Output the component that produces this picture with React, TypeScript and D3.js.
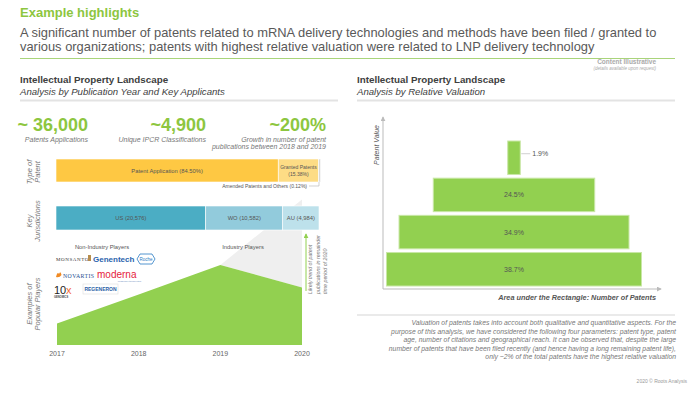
import * as d3 from 'd3';

// ---- data ----
const statValues = ['~ 36,000', '~4,900', '~200%'];
const statLabels = [
  ['Patents Applications'],
  ['Unique IPCR Classifications'],
  ['Growth  in number of patent', 'publications between 2018 and 2019'],
];

const patentTypes = ['Patent Application', 'Granted Patents', 'Amended Patents and Others'];
const patentShares = [84.5, 15.38, 0.12];
const patentColours = ['#fec843', '#fddc85', '#d9d9d9'];

const jurisdictions = ['US', 'WO', 'AU'];
const jurisdictionCounts = [20576, 10582, 4984];
const jurisdictionColours = ['#4badc4', '#92cbdc', '#bde1eb'];

const years = [2017, 2018, 2019, 2020];
const publications = [27, 63, 100, 72]; // relative publication index
const projected2020 = 182;

const valuationShares = [1.9, 24.5, 34.9, 38.7];

const paragraph = [
  'Valuation of patents takes into account both qualitative and quantitative aspects. For the',
  'purpose of this analysis, we have considered the following  four parameters:  patent type, patent',
  'age, number of citations and geographical reach.  It can be observed that, despite the large',
  'number of patents that have been filed recently (and hence having a long remaining patent life),',
  'only ~2% of the total patents have the highest relative valuation',
];

const W = 700;
const H = 394;
const FONT = '"Liberation Sans", Arial, sans-serif';
const GREEN = '#8dc63f';
const GRAY = '#595959';

export default function App() {
  // left panel scales
  const xShare = d3.scaleLinear().domain([0, 100]).range([56, 319]);
  const xJur = d3.scaleLinear().domain([0, d3.sum(jurisdictionCounts)]).range([56, 319]);
  const xYear = d3.scaleLinear().domain([2017, 2020]).range([57, 302]);
  const yPub = d3.scaleLinear().domain([0, 100]).range([345, 265]);

  const shareStarts = patentShares.map((_, i) => d3.sum(patentShares.slice(0, i)));
  const jurStarts = jurisdictionCounts.map((_, i) => d3.sum(jurisdictionCounts.slice(0, i)));

  const area = d3
    .area<number>()
    .x((_, i) => xYear(years[i]))
    .y0(yPub(0))
    .y1((d) => yPub(d));

  const projPoly = [
    [xYear(2019), yPub(publications[2])],
    [xYear(2020), yPub(projected2020)],
    [xYear(2020), yPub(publications[3])],
  ];

  // right panel scales
  const wVal = d3.scaleLinear().domain([0, d3.max(valuationShares)!]).range([0, 255]);
  const yVal = d3
    .scaleBand<number>()
    .domain(valuationShares)
    .range([141, 286])
    .paddingInner(0.1);
  const cxVal = 514;

  return (
    <div style={{ position: 'fixed', left: 0, top: 0 }}>
      <svg width={W} height={H} style={{ display: 'block', background: '#fff' }} fontFamily={FONT}>
        <defs>
          <marker id="arrGray" viewBox="0 0 6 6" refX="5" refY="3" markerWidth="5" markerHeight="5" orient="auto">
            <path d="M0,0 L6,3 L0,6 z" fill="#bbb" />
          </marker>
          <marker id="arrGreen" viewBox="0 0 6 6" refX="5" refY="3" markerWidth="5" markerHeight="5" orient="auto">
            <path d="M0,0 L6,3 L0,6 z" fill="#92d050" />
          </marker>
        </defs>

        {/* header */}
        <text x={20} y={17} fontSize={13} fontWeight="bold" fill={GREEN}>Example highlights</text>
        <text x={20} y={37} fontSize={12.9} fill={GRAY}>
          A significant number of patents related to mRNA delivery technologies and methods have been filed / granted to
        </text>
        <text x={20} y={50.5} fontSize={12.9} fill={GRAY}>
          various organizations; patents with highest relative valuation were related to LNP delivery technology
        </text>
        <line x1={20} x2={675} y1={58.5} y2={58.5} stroke="#a9d47a" strokeWidth={1} />
        <text x={656} y={63.5} fontSize={6.5} fontWeight="bold" fill="#aaa" textAnchor="end">Content Illustrative</text>
        <text x={656} y={70} fontSize={4.5} fontStyle="italic" fill="#aaa" textAnchor="end">(details available upon request)</text>

        {/* section headers */}
        {[20, 357].map((x, i) => (
          <g key={x}>
            <text x={x} y={82.5} fontSize={9.8} fontWeight="bold" fill="#404040">Intellectual  Property Landscape</text>
            <text x={x} y={95} fontSize={9.6} fontStyle="italic" fill="#404040">
              {i === 0 ? 'Analysis by Publication Year and Key Applicants' : 'Analysis by Relative Valuation'}
            </text>
            <line x1={x} x2={i === 0 ? 338 : 675} y1={100.5} y2={100.5} stroke="#e3e3e3" strokeWidth={2} />
          </g>
        ))}

        {/* big stats */}
        {statValues.map((v, i) => {
          const xr = [88, 206, 326][i];
          return (
            <g key={v}>
              <text x={xr} y={131} fontSize={18} fontWeight="bold" fill={GREEN} textAnchor="end">{v}</text>
              {statLabels[i].map((l, j) => (
                <text key={l} x={xr} y={141.5 + j * 7.5} fontSize={7} fontStyle="italic" fill="#777" textAnchor="end">{l}</text>
              ))}
            </g>
          );
        })}

        {/* row labels */}
        {[
          [172, 'Type of', 'Patent'],
          [221, 'Key', 'Jurisdictions'],
          [304, 'Examples of', 'Popular Players'],
        ].map(([cy, a, b]) => (
          <g key={String(cy)} transform={`translate(33,${cy}) rotate(-90)`}>
            <text x={0} y={-1.5} fontSize={7.5} fontStyle="italic" fill="#777" textAnchor="middle">{a}</text>
            <text x={0} y={7} fontSize={7.5} fontStyle="italic" fill="#777" textAnchor="middle">{b}</text>
          </g>
        ))}

        {/* projected area (behind bars) */}
        <polygon points={projPoly.map((p) => p.join(',')).join(' ')} fill="#efefef" />

        {/* type of patent bar */}
        {patentShares.map((s, i) => {
          const x0 = xShare(shareStarts[i]);
          const w = Math.max(xShare(shareStarts[i] + s) - x0, 2);
          return <rect key={patentTypes[i]} x={x0} y={159} width={w} height={23} fill={patentColours[i]} stroke="#fff" strokeWidth={0.6} />;
        })}
        <text x={(xShare(0) + xShare(patentShares[0])) / 2} y={173} fontSize={5.8} fill="#555" textAnchor="middle">
          {`${patentTypes[0]} (${patentShares[0].toFixed(2)}%)`}
        </text>
        <text x={(xShare(shareStarts[1]) + xShare(shareStarts[2])) / 2} y={169} fontSize={5} fill="#555" textAnchor="middle">{patentTypes[1]}</text>
        <text x={(xShare(shareStarts[1]) + xShare(shareStarts[2])) / 2} y={176} fontSize={5} fill="#555" textAnchor="middle">{`(${patentShares[1].toFixed(2)}%)`}</text>
        <text x={307} y={188} fontSize={5} fill="#555" textAnchor="end">{`${patentTypes[2]} (${patentShares[2].toFixed(2)}%)`}</text>
        <polyline points={`309,186 ${xShare(100)},186 ${xShare(100)},182`} fill="none" stroke="#bbb" strokeWidth={0.7} />

        {/* jurisdiction bar */}
        {jurisdictionCounts.map((c, i) => {
          const x0 = xJur(jurStarts[i]);
          const x1 = xJur(jurStarts[i] + c);
          return (
            <g key={jurisdictions[i]}>
              <rect x={x0} y={206} width={x1 - x0} height={24} fill={jurisdictionColours[i]} stroke="#fff" strokeWidth={0.6} />
              <text x={(x0 + x1) / 2} y={220} fontSize={5.8} fill="#555" textAnchor="middle">
                {`${jurisdictions[i]} (${d3.format(',')(c)})`}
              </text>
            </g>
          );
        })}

        <text x={102} y={249} fontSize={5.8} fill="#555" textAnchor="middle">Non-Industry Players</text>
        <text x={243} y={249} fontSize={5.8} fill="#555" textAnchor="middle">Industry Players</text>

        {/* area chart */}
        <path d={area(publications)!} fill="#92d050" />
        {years.map((y) => (
          <text key={y} x={xYear(y)} y={356} fontSize={7} fill="#666" textAnchor="middle">{y}</text>
        ))}
        <line x1={306} x2={306} y1={291} y2={234} stroke="#92d050" strokeWidth={1} markerEnd="url(#arrGreen)" />
        {['Likely trend of patent', 'publications in remainder', 'time period of 2020'].map((t, i) => (
          <text key={t} transform={`translate(${312 + i * 7.5},294) rotate(-90)`} fontSize={5.3} fontStyle="italic" fill="#777">{t}</text>
        ))}

        {/* logos (as text) */}
        <text x={56} y={261} fontSize={5} fontFamily="'Liberation Serif', serif" letterSpacing={0.6} fill="#333">MONSANTO</text>
        <rect x={88} y={255} width={3} height={6} fill="#b68d4c" />
        <text x={93} y={261.5} fontSize={8} fontWeight="bold" fill="#2a63ad">Genentech</text>
        <polygon points="137,259 140,254 152,254 155,259 152,264 140,264" fill="#fff" stroke="#2a7bc4" strokeWidth={0.8} />
        <text x={146} y={261} fontSize={4.5} fill="#2a7bc4" textAnchor="middle">Roche</text>

        <path d="M56,277 q1.5,-6 3,-3 q1.5,-4 2.5,1 q-2,3 -5.5,2 z" fill="#f08a24" />
        <text x={63} y={278} fontSize={5.8} fontFamily="'Liberation Serif', serif" letterSpacing={0.4} fill="#1d4f91">NOVARTIS</text>
        <text x={97} y={278} fontSize={10} fill="#e51b3e">moderna</text>
        <text x={141} y={282} fontSize={2.2} fill="#6a8ac0" textAnchor="end">messenger therapeutics</text>

        <text x={54} y={294} fontSize={11} fill="#222">10</text>
        <text x={66} y={294} fontSize={11} fill="#f26c3b">x</text>
        <text x={54} y={298} fontSize={2.6} fontWeight="bold" fill="#444">GENOMICS</text>
        <rect x={83} y={284} width={35} height={10} fill="#fff" stroke="#ddd" strokeWidth={0.6} />
        <text x={100.5} y={291} fontSize={5} fontWeight="bold" fill="#2b5fa6" textAnchor="middle">REGENERON</text>

        {/* right panel: valuation rectangles */}
        <line x1={383} x2={383} y1={289} y2={117} stroke="#bbb" strokeWidth={1} markerEnd="url(#arrGray)" />
        <line x1={383} x2={661} y1={289} y2={289} stroke="#bbb" strokeWidth={1} markerEnd="url(#arrGray)" />
        <text transform="translate(379,145) rotate(-90)" fontSize={7} fontStyle="italic" fill="#555" textAnchor="middle">Patent Value</text>
        <text x={656} y={300} fontSize={7.3} fontWeight="bold" fontStyle="italic" fill="#555" textAnchor="end">
          Area under the Rectangle:  Number of Patents
        </text>

        {valuationShares.map((s) => {
          const w = wVal(s);
          const y = yVal(s)!;
          const bh = yVal.bandwidth();
          const small = w < 30;
          return (
            <g key={s}>
              <rect x={cxVal - w / 2} y={y} width={w} height={bh} fill="#92d050" stroke="#c9e7a6" strokeWidth={1} />
              {small ? (
                <>
                  <line x1={cxVal + w / 2 + 1} x2={cxVal + w / 2 + 10} y1={y + bh / 2 - 4} y2={y + bh / 2 - 4} stroke="#bbb" strokeWidth={0.7} />
                  <text x={cxVal + w / 2 + 12} y={y + bh / 2 - 1.5} fontSize={7} fill="#555">{`${s}%`}</text>
                </>
              ) : (
                <text x={cxVal} y={y + bh / 2 + 2.5} fontSize={7} fill="#555" textAnchor="middle">{`${s}%`}</text>
              )}
            </g>
          );
        })}

        {/* notes */}
        <line x1={357} x2={675} y1={315} y2={315} stroke="#e3e3e3" strokeWidth={1.5} />
        {paragraph.map((t, i) => (
          <text key={i} x={676} y={325 + i * 8.5} fontSize={6.8} fontStyle="italic" fill="#777" textAnchor="end">{t}</text>
        ))}
        <text x={687} y={383} fontSize={5} fill="#999" textAnchor="end">2020 © Roots Analysis</text>
      </svg>
    </div>
  );
}
